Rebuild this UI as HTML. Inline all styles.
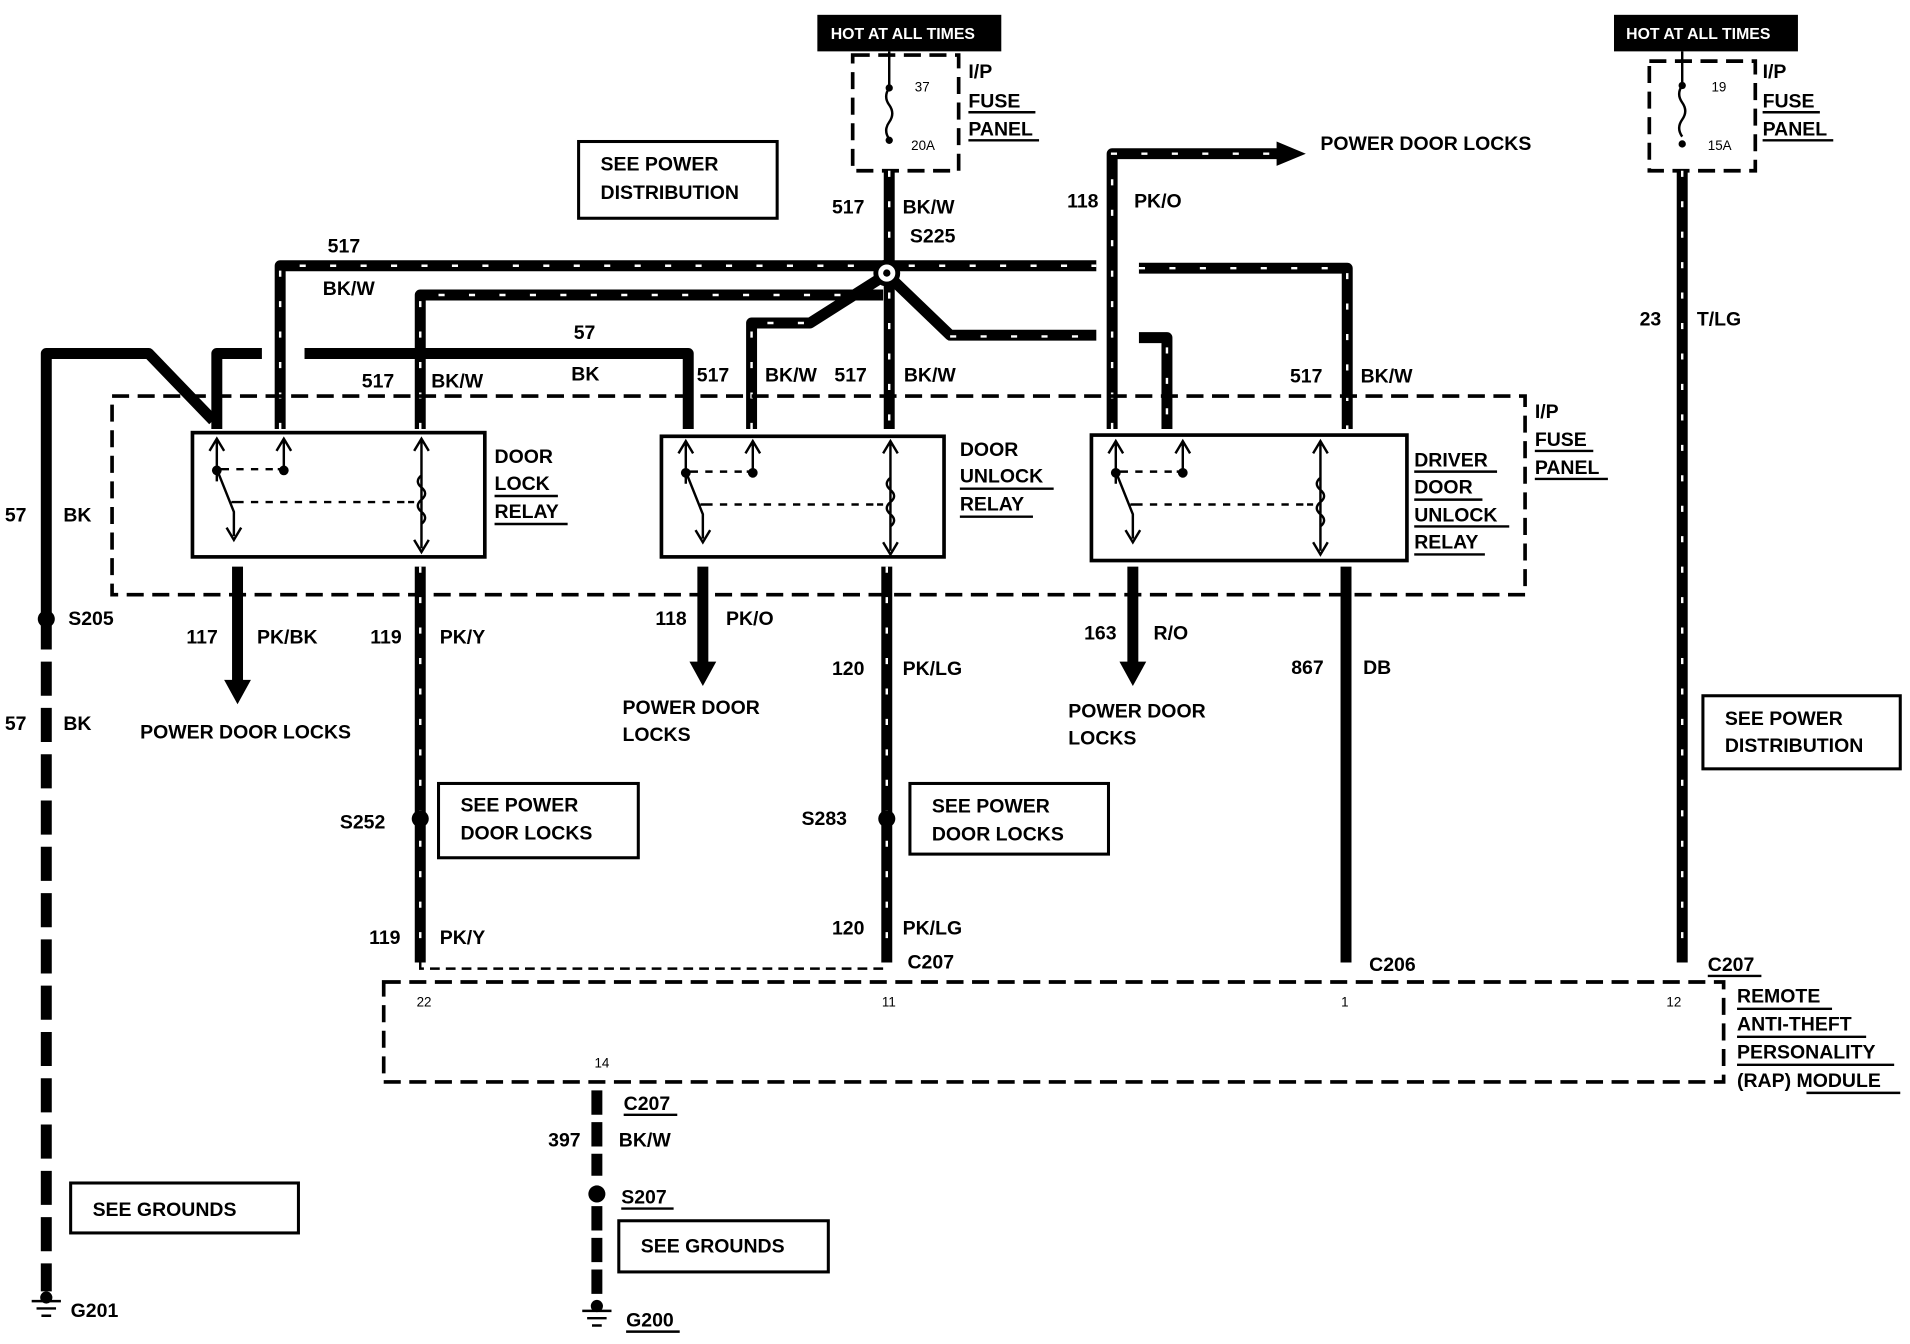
<!DOCTYPE html>
<html><head><meta charset="utf-8"><style>
html,body{margin:0;padding:0;background:#fff;}
svg{display:block;}
text{font-family:"Liberation Sans",sans-serif;font-weight:bold;font-size:16px;fill:#000;}
.s{font-size:11px;font-weight:normal;}
.w{stroke:#000;stroke-width:9;fill:none;stroke-linejoin:round;}
.st{stroke:#fff;stroke-width:2;fill:none;stroke-dasharray:5 20;}
.d{stroke:#000;stroke-width:3;fill:none;stroke-dasharray:14 7;}
.b{stroke:#000;stroke-width:2.5;fill:#fff;}
.t{stroke:#000;stroke-width:2;fill:none;}
</style></head><body>
<svg width="1910" height="1344" viewBox="0 0 1568 1103" xmlns="http://www.w3.org/2000/svg">
<rect x="671" y="12" width="151" height="30" fill="#000"/>
<text x="682" y="32" style="font-size:13px;fill:#fff">HOT AT ALL TIMES</text>
<rect x="700" y="45" width="87" height="95" class="d"/>
<line x1="730" y1="42" x2="730" y2="70" class="t"/><circle cx="730" cy="72" r="3"/>
<path d="M730 72 q-5 7 0 14 q5 7 0 14 q-5 7 0 14" class="t"/><circle cx="730" cy="115" r="3"/>
<text x="751" y="75" class="s">37</text><text x="748" y="123" class="s">20A</text>
<text x="795" y="64">I/P</text><text x="795" y="88">FUSE</text><text x="795" y="111">PANEL</text>
<line x1="795" y1="92" x2="850" y2="92" class="t"/><line x1="795" y1="115" x2="853" y2="115" class="t"/>
<rect x="1325" y="12" width="151" height="30" fill="#000"/>
<text x="1335" y="32" style="font-size:13px;fill:#fff">HOT AT ALL TIMES</text>
<rect x="1354" y="50" width="87" height="90" class="d"/>
<line x1="1381" y1="42" x2="1381" y2="70" class="t"/><circle cx="1381" cy="70" r="3"/>
<path d="M1381 70 q-5 7 0 14 q5 7 0 14 q-5 7 0 14" class="t"/><circle cx="1381" cy="118" r="3"/>
<text x="1405" y="75" class="s">19</text><text x="1402" y="123" class="s">15A</text>
<text x="1447" y="64">I/P</text><text x="1447" y="88">FUSE</text><text x="1447" y="111">PANEL</text>
<line x1="1447" y1="92" x2="1494" y2="92" class="t"/><line x1="1447" y1="115" x2="1505" y2="115" class="t"/>
<rect x="475" y="116" width="163" height="63" class="b"/>
<text x="493" y="140">SEE POWER</text><text x="493" y="163">DISTRIBUTION</text>
<rect x="1398" y="571" width="162" height="60" class="b"/>
<text x="1416" y="595">SEE POWER</text><text x="1416" y="617">DISTRIBUTION</text>
<g>
<path class="w" d="M730 140 V352"/><path class="st" d="M730 140 V352"/>
<path class="w" d="M230 352 V218 H900"/><path class="st" d="M230 352 V218 H900"/>
<path class="w" d="M345 352 V242 H725"/><path class="st" d="M345 352 V242 H700"/>
<path class="w" d="M617 352 V265 H665 L728 225"/><path class="st" d="M617 352 V265 H660"/>
<path class="w" d="M728 225 L780 275 H900"/><path class="st" d="M780 276 H900"/>
<path class="w" d="M935 277 H958 V352"/><path class="st" d="M958 285 V352"/>
<path class="w" d="M935 220 H1106 V352"/><path class="st" d="M935 220 H1106 V352"/>
<path class="w" d="M913 352 V126 H1050"/><path class="st" d="M913 352 V126 H1050"/>
<polygon points="1048,116 1072,126 1048,136"/>
<path class="w" d="M1381 140 V790"/><path class="st" d="M1381 140 V790"/>
</g>
<circle cx="728" cy="224" r="9" fill="#fff" stroke="#000" stroke-width="4"/>
<circle cx="728" cy="224" r="3"/>
<path class="w" d="M565 352 V290 H250"/>
<path class="w" d="M215 290 H178 V352"/>
<path class="w" d="M38 505 V290 H122 L175 345"/>
<path d="M38 505 V1060" stroke="#000" stroke-width="9" stroke-dasharray="28 10"/>
<circle cx="38" cy="508" r="7"/>
<rect x="92" y="325" width="1160" height="163" class="d"/>
<g class="t">
<rect x="158" y="355" width="240" height="102" stroke-width="3"/>
<rect x="543" y="358" width="232" height="99" stroke-width="3"/>
<rect x="896" y="357" width="259" height="103" stroke-width="3"/>
</g>
<g id="sw">
<path class="t" d="M178 395 V362 M172 370 L178 360 L184 370 M178 385 L192 420 V440 M186 433 L192 443 L198 433 M233 385 V362 M227 370 L233 360 L239 370 M180 385 H230 M190 412 H340"/>
<line x1="188" y1="385" x2="228" y2="385" stroke="#fff" stroke-width="3" stroke-dasharray="6 6"/>
<line x1="200" y1="412" x2="335" y2="412" stroke="#fff" stroke-width="3" stroke-dasharray="6 6"/>
<circle cx="178" cy="386" r="4"/><circle cx="233" cy="386" r="4"/>
<path class="t" d="M346 362 V450 M340 370 L346 360 L352 370 M346 390 q-6 5 0 10 q6 5 0 10 q-6 5 0 10 q6 5 0 10 M340 443 L346 453 L352 443"/>
</g>
<use href="#sw" transform="translate(385,2)"/>
<use href="#sw" transform="translate(738,2)"/>
<text x="406" y="380">DOOR</text><text x="406" y="402">LOCK</text><text x="406" y="425">RELAY</text>
<line x1="406" y1="407" x2="458" y2="407" class="t"/><line x1="406" y1="430" x2="466" y2="430" class="t"/>
<text x="788" y="374">DOOR</text><text x="788" y="396">UNLOCK</text><text x="788" y="419">RELAY</text>
<line x1="788" y1="401" x2="865" y2="401" class="t"/><line x1="788" y1="424" x2="848" y2="424" class="t"/>
<text x="1161" y="383">DRIVER</text><text x="1161" y="405">DOOR</text><text x="1161" y="428">UNLOCK</text><text x="1161" y="450">RELAY</text>
<line x1="1161" y1="387" x2="1229" y2="387" class="t"/><line x1="1161" y1="410" x2="1217" y2="410" class="t"/><line x1="1161" y1="432" x2="1239" y2="432" class="t"/><line x1="1161" y1="455" x2="1219" y2="455" class="t"/>
<text x="1260" y="343">I/P</text><text x="1260" y="366">FUSE</text><text x="1260" y="389">PANEL</text>
<line x1="1260" y1="370" x2="1308" y2="370" class="t"/><line x1="1260" y1="393" x2="1320" y2="393" class="t"/>
<path class="w" d="M195 465 V560"/><polygon points="184,558 206,558 195,578"/>
<path class="w" d="M577 465 V545"/><polygon points="566,543 588,543 577,563"/>
<path class="w" d="M930 465 V545"/><polygon points="919,543 941,543 930,563"/>
<path class="w" d="M345 465 V790"/><path class="st" d="M345 465 V790"/>
<path class="w" d="M728 465 V790"/><path class="st" d="M728 465 V790"/>
<path class="w" d="M1105 465 V790"/>
<circle cx="345" cy="672" r="7"/><circle cx="728" cy="672" r="7"/>
<rect x="315" y="806" width="1100" height="82" class="d"/>
<path class="t" d="M345 790 V795 H728" stroke-dasharray="8 5"/>
<text x="342" y="826" class="s">22</text><text x="724" y="826" class="s">11</text><text x="1101" y="826" class="s">1</text><text x="1368" y="826" class="s">12</text><text x="488" y="876" class="s">14</text>
<text x="1426" y="823">REMOTE</text><text x="1426" y="846">ANTI-THEFT</text><text x="1426" y="869">PERSONALITY</text><text x="1426" y="892">(RAP) MODULE</text>
<line x1="1426" y1="828" x2="1504" y2="828" class="t"/><line x1="1426" y1="851" x2="1532" y2="851" class="t"/><line x1="1426" y1="874" x2="1555" y2="874" class="t"/><line x1="1483" y1="897" x2="1560" y2="897" class="t"/>
<path d="M490 895 V965 M490 990 V1068" stroke="#000" stroke-width="9" stroke-dasharray="20 6"/>
<circle cx="490" cy="980" r="7"/>
<g class="t" stroke-width="2.5"><path d="M26 1068 H50 M30 1074 H46 M34 1080 H42"/><path d="M478 1076 H502 M482 1082 H498 M486 1088 H494"/></g>
<circle cx="38" cy="1065" r="5"/><circle cx="490" cy="1072" r="5"/>
<rect x="360" y="643" width="164" height="61" class="b"/><text x="378" y="666">SEE POWER</text><text x="378" y="689">DOOR LOCKS</text>
<rect x="747" y="643" width="163" height="58" class="b"/><text x="765" y="667">SEE POWER</text><text x="765" y="690">DOOR LOCKS</text>
<rect x="58" y="971" width="187" height="41" class="b"/><text x="76" y="998">SEE GROUNDS</text>
<rect x="508" y="1002" width="172" height="42" class="b"/><text x="526" y="1028">SEE GROUNDS</text>
<text x="683" y="175">517</text><text x="741" y="175">BK/W</text><text x="747" y="199">S225</text>
<text x="876" y="170">118</text><text x="931" y="170">PK/O</text>
<text x="1084" y="123">POWER DOOR LOCKS</text>
<text x="269" y="207">517</text><text x="265" y="242">BK/W</text>
<text x="471" y="278">57</text><text x="469" y="312">BK</text>
<text x="297" y="318">517</text><text x="354" y="318">BK/W</text>
<text x="572" y="313">517</text><text x="628" y="313">BK/W</text><text x="685" y="313">517</text><text x="742" y="313">BK/W</text>
<text x="1059" y="314">517</text><text x="1117" y="314">BK/W</text>
<text x="1346" y="267">23</text><text x="1393" y="267">T/LG</text>
<text x="4" y="428">57</text><text x="52" y="428">BK</text>
<text x="56" y="513">S205</text><text x="4" y="599">57</text><text x="52" y="599">BK</text>
<text x="153" y="528">117</text><text x="211" y="528">PK/BK</text><text x="304" y="528">119</text><text x="361" y="528">PK/Y</text>
<text x="115" y="606">POWER DOOR LOCKS</text>
<text x="538" y="513">118</text><text x="596" y="513">PK/O</text>
<text x="683" y="554">120</text><text x="741" y="554">PK/LG</text>
<text x="511" y="586">POWER DOOR</text><text x="511" y="608">LOCKS</text>
<text x="890" y="525">163</text><text x="947" y="525">R/O</text>
<text x="1060" y="553">867</text><text x="1119" y="553">DB</text>
<text x="877" y="589">POWER DOOR</text><text x="877" y="611">LOCKS</text>
<text x="279" y="680">S252</text><text x="658" y="677">S283</text>
<text x="303" y="775">119</text><text x="361" y="775">PK/Y</text>
<text x="683" y="767">120</text><text x="741" y="767">PK/LG</text>
<text x="745" y="795">C207</text><text x="1124" y="797">C206</text><text x="1402" y="797">C207</text>
<line x1="1402" y1="801" x2="1446" y2="801" class="t"/>
<text x="512" y="911">C207</text><line x1="512" y1="915" x2="556" y2="915" class="t"/>
<text x="450" y="941">397</text><text x="508" y="941">BK/W</text>
<text x="510" y="988">S207</text><line x1="510" y1="992" x2="553" y2="992" class="t"/>
<text x="58" y="1081">G201</text><text x="514" y="1089">G200</text><line x1="514" y1="1093" x2="558" y2="1093" class="t"/>
</svg>
</body></html>
